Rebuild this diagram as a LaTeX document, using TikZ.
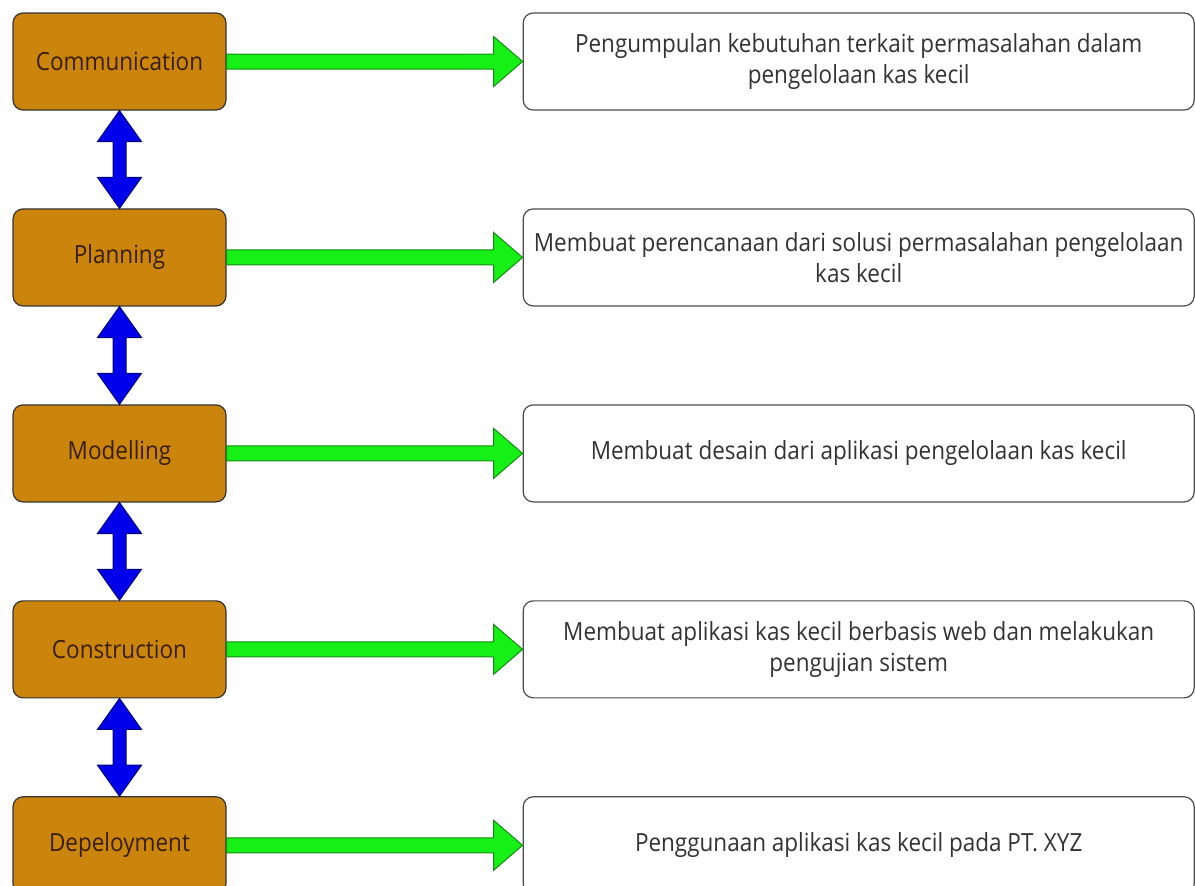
\documentclass[tikz,border=0pt]{standalone}
\usepackage{fontspec}
\setmainfont{Open Sans}[FakeStretch=0.9]
\usetikzlibrary{positioning,calc}
\definecolor{oranye}{RGB}{203,133,12}
\definecolor{coklat}{RGB}{55,30,4}
\definecolor{hijau}{RGB}{22,240,22}
\definecolor{hijaugelap}{RGB}{20,140,20}
\definecolor{biru}{RGB}{0,0,235}
\definecolor{birugelap}{RGB}{0,0,120}
\tikzset{
	tahap/.style={draw=black!80, fill=oranye, rounded corners=10pt,
		minimum width=213pt, minimum height=97pt, line width=1.2pt,
		text=coklat, font=\fontsize{25}{30}\selectfont},
	ket/.style={draw=black!70, fill=white, rounded corners=10pt,
		minimum width=671pt, minimum height=97pt, line width=1.2pt,
		align=center, text=black!80, font=\fontsize{25}{31}\selectfont},
	panah/.style={fill=hijau, draw=hijaugelap, line width=1pt},
	panahdua/.style={fill=biru, draw=birugelap, line width=1pt}
}
\begin{document}
\begin{tikzpicture}[x=1pt, y=-1pt]
	\useasboundingbox (0,0) rectangle (1195,886);
	\node[tahap] (t1) at (119.5,61.5) {Communication};
	\node[tahap, below=97.75pt of t1] (t2) {Planning};
	\node[tahap, below=97.75pt of t2] (t3) {Modelling};
	\node[tahap, below=97.75pt of t3] (t4) {Construction};
	\node[tahap, below=97.75pt of t4] (t5) {Depeloyment};
	\node[ket, right=296pt of t1] (k1)
		{Pengumpulan kebutuhan terkait permasalahan dalam\\ pengelolaan kas kecil};
	\node[ket, right=296pt of t2] (k2)
		{Membuat perencanaan dari solusi permasalahan pengelolaan\\ kas kecil};
	\node[ket, right=296pt of t3] (k3)
		{Membuat desain dari aplikasi pengelolaan kas kecil};
	\node[ket, right=296pt of t4] (k4)
		{Membuat aplikasi kas kecil berbasis web dan melakukan\\ pengujian sistem};
	\node[ket, right=296pt of t5] (k5)
		{Penggunaan aplikasi kas kecil pada PT. XYZ};
	% panah hijau
	\foreach \i in {1,...,5}
		\filldraw[panah] ($(t\i.east)+(0,-7.5)$) -- ($(k\i.west)+(-29,-7.5)$)
			-- ($(k\i.west)+(-29,-25)$) -- (k\i.west) -- ($(k\i.west)+(-29,25)$)
			-- ($(k\i.west)+(-29,7.5)$) -- ($(t\i.east)+(0,7.5)$) -- cycle;
	% panah biru dua arah
	\foreach \i/\j in {1/2,2/3,3/4,4/5}
		\filldraw[panahdua] (t\i.south) -- +(22,31) -- +(6.5,31)
			-- ($(t\j.north)+(6.5,-31)$) -- ($(t\j.north)+(22,-31)$) -- (t\j.north)
			-- ($(t\j.north)+(-22,-31)$) -- ($(t\j.north)+(-6.5,-31)$)
			-- ($(t\i.south)+(-6.5,31)$) -- ($(t\i.south)+(-22,31)$) -- cycle;
\end{tikzpicture}
\end{document}
